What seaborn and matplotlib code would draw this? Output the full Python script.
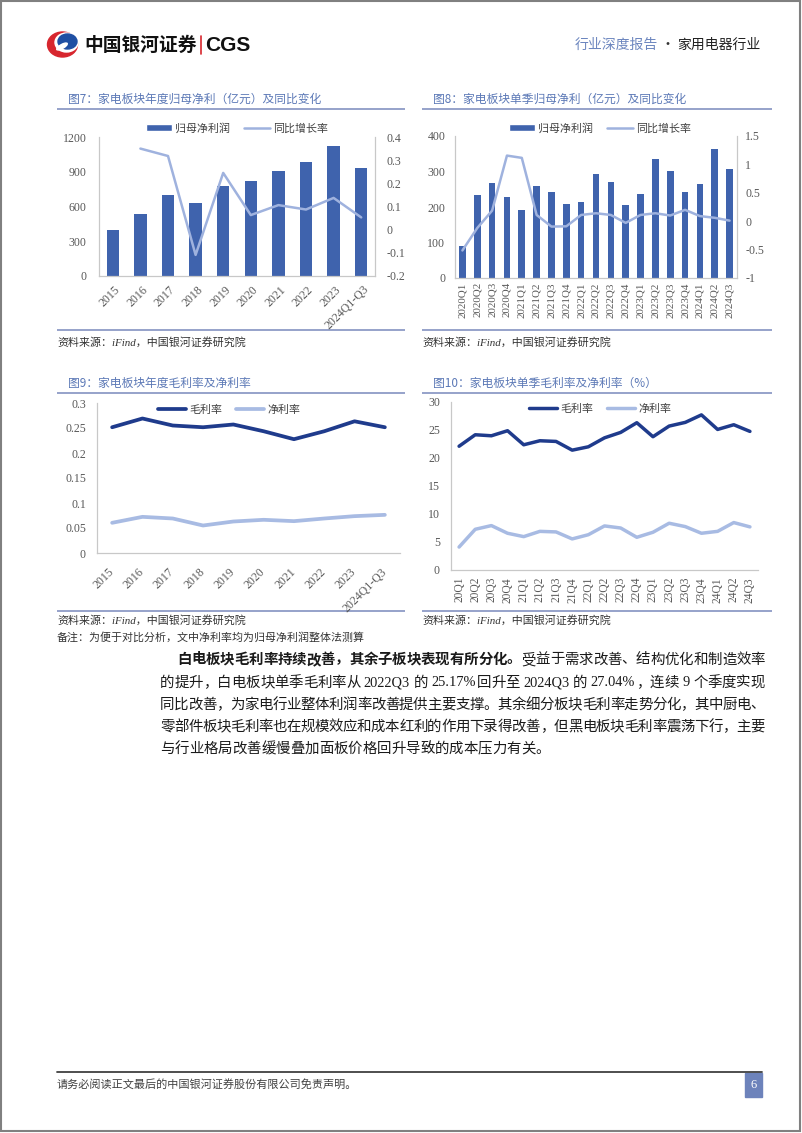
import numpy as np
import pandas as pd
import matplotlib
matplotlib.use("Agg")
import matplotlib.pyplot as plt
import seaborn as sns
from matplotlib.patches import Rectangle, Ellipse, Patch
from matplotlib.lines import Line2D
from matplotlib.transforms import ScaledTranslation
from matplotlib.ticker import FuncFormatter

# ---------------- data ----------------
years = ["2015", "2016", "2017", "2018", "2019", "2020", "2021", "2022", "2023", "2024Q1-Q3"]
annual_profit = [396, 531, 698, 626, 775, 821, 904, 988, 1120, 933]
annual_yoy = [None, 0.350, 0.318, -0.109, 0.245, 0.063, 0.106, 0.087, 0.137, 0.053]

quarters = ["2020Q1", "2020Q2", "2020Q3", "2020Q4", "2021Q1", "2021Q2", "2021Q3", "2021Q4",
            "2022Q1", "2022Q2", "2022Q3", "2022Q4", "2023Q1", "2023Q2", "2023Q3", "2023Q4",
            "2024Q1", "2024Q2", "2024Q3"]
quarter_profit = [91, 234, 268, 227, 191, 260, 243, 209, 213, 294, 270, 205, 236, 336, 300, 243, 264, 362, 306]
quarter_yoy = [-0.515, -0.12, 0.186, 1.155, 1.115, 0.11, -0.095, -0.09, 0.11, 0.14, 0.11, -0.03,
               0.11, 0.14, 0.10, 0.20, 0.09, 0.06, 0.01]

annual_gross = [0.2515, 0.269, 0.255, 0.2515, 0.257, 0.2435, 0.2276, 0.2435, 0.2634, 0.2515]
annual_net = [0.0604, 0.0723, 0.069, 0.055, 0.063, 0.0664, 0.0637, 0.069, 0.0737, 0.0763]

quarters_short = ["20Q1", "20Q2", "20Q3", "20Q4", "21Q1", "21Q2", "21Q3", "21Q4", "22Q1", "22Q2",
                  "22Q3", "22Q4", "23Q1", "23Q2", "23Q3", "23Q4", "24Q1", "24Q2", "24Q3"]
quarter_gross = [22.1, 24.15, 23.97, 24.87, 22.36, 23.08, 22.96, 21.4, 22.0, 23.6, 24.57, 26.3,
                 23.8, 25.7, 26.36, 27.7, 25.1, 25.94, 24.75]
quarter_net = [4.1, 7.27, 7.93, 6.56, 5.96, 6.9, 6.8, 5.55, 6.3, 7.87, 7.5, 5.84, 6.74, 8.35,
               7.75, 6.56, 6.9, 8.47, 7.7]

ticks7_left = [0, 300, 600, 900, 1200]
ticks7_right = [-0.2, -0.1, 0, 0.1, 0.2, 0.3, 0.4]
ticks8_left = [0, 100, 200, 300, 400]
ticks8_right = [-1, -0.5, 0, 0.5, 1, 1.5]
ticks9 = [0, 0.05, 0.1, 0.15, 0.2, 0.25, 0.3]
ticks10 = [0, 5, 10, 15, 20, 25, 30]

titles = ["图7：家电板块年度归母净利（亿元）及同比变化",
          "图8：家电板块单季归母净利（亿元）及同比变化",
          "图9：家电板块年度毛利率及净利率",
          "图10：家电板块单季毛利率及净利率（%）"]
source_text = "资料来源：iFind，中国银河证券研究院"
note_text = "备注：为便于对比分析，文中净利率均为归母净利润整体法测算"
legend_profit = ["归母净利润", "同比增长率"]
legend_margin = ["毛利率", "净利率"]

body_lines = [
    [("白电板块毛利率持续改善，其余子板块表现有所分化。", "bold"), ("受益于需求改善、结构优化和制造效率", "normal")],
    [("的提升，白电板块单季毛利率从 2022Q3 的 25.17%回升至 2024Q3 的 27.04%，连续 9 个季度实现", "normal")],
    [("同比改善，为家电行业整体利润率改善提供主要支撑。其余细分板块毛利率走势分化，其中厨电、", "normal")],
    [("零部件板块毛利率也在规模效应和成本红利的作用下录得改善，但黑电板块毛利率震荡下行，主要", "normal")],
    [("与行业格局改善缓慢叠加面板价格回升导致的成本压力有关。", "normal")],
]

# ---------------- style ----------------
sns.set_theme(style="white")
plt.rcParams["font.family"] = ["Liberation Serif", "Noto Sans CJK SC", "DejaVu Sans"]
plt.rcParams["axes.unicode_minus"] = False

BAR = "#3f63ad"
YOY = "#9fb2de"
GROSS = "#1f3b8c"
NET = "#a8bbe3"
SPINE = "#c8c8c8"
TICK = "#595959"
TITLE = "#5b78b6"
RULE = "#8d9bc6"
SANS = ["Noto Sans CJK SC", "DejaVu Sans"]
SERIF = ["Liberation Serif", "Noto Sans CJK SC", "DejaVu Sans"]

W, H = 802, 1133
fig = plt.figure(figsize=(W / 100, H / 100), dpi=100)
bg = fig.add_axes([0, 0, 1, 1])
bg.set_xlim(0, W)
bg.set_ylim(H, 0)
bg.axis("off")


def px_axes(l, t, r, b):
    a = fig.add_axes([l / W, 1 - b / H, (r - l) / W, (b - t) / H])
    a.set_facecolor("none")
    return a


fmt = FuncFormatter(lambda v, p: f"{v:g}")


def style_y(ax, ticks, lim, pad, size=8.6):
    ax.set_ylim(*lim)
    ax.set_yticks(ticks)
    ax.yaxis.set_major_formatter(fmt)
    ax.tick_params(axis="y", length=0, pad=pad, labelsize=size, labelcolor=TICK)
    for lab in ax.get_yticklabels():
        lab.set_family(SERIF)
    ax.set_ylabel("")
    ax.grid(False)


def style_x(ax, labels, rot, pad, size, dx=0):
    pos = np.arange(len(labels))
    ax.set_xticks(pos)
    if rot == 45:
        ax.set_xticklabels(labels, rotation=45, ha="right", va="center",
                           rotation_mode="anchor", fontsize=size, color=TICK, family=SERIF)
    else:
        ax.set_xticklabels(labels, rotation=90, ha="center", va="top",
                           fontsize=size, color=TICK, family=SERIF)
    ax.tick_params(axis="x", length=0, pad=pad)
    ax.set_xlim(-0.5, len(labels) - 0.5)
    ax.set_xlabel("")
    if dx:
        off = ScaledTranslation(dx / 100, 0, fig.dpi_scale_trans)
        for lab in ax.get_xticklabels():
            lab.set_transform(lab.get_transform() + off)


def spines(ax, left, right, bottom):
    ax.spines["top"].set_visible(False)
    for name, vis in (("left", left), ("right", right), ("bottom", bottom)):
        ax.spines[name].set_visible(vis)
        ax.spines[name].set_color(SPINE)
        ax.spines[name].set_linewidth(0.9)


def frame(x0, x1, title, y_title, y_rule, y_src_rule, y_src):
    bg.text(x0 + 11, y_title, title, fontsize=8.5, color=TITLE, family=SANS, va="center", ha="left")
    bg.plot([x0, x1], [y_rule, y_rule], color=RULE, lw=1.3, solid_capstyle="butt")
    bg.plot([x0, x1], [y_src_rule, y_src_rule], color=RULE, lw=1.3, solid_capstyle="butt")
    bg.text(x0, y_src, source_text, fontsize=7.9, color="#333333", family=SERIF,
            style="italic", va="center", ha="left")


# ---------------- page decoration ----------------
bg.add_patch(Rectangle((1, 1), W - 3, H - 3, fill=False, ec="#808080", lw=1.5))
# logo
bg.add_patch(Ellipse((62.5, 44.5), 30, 25, color="#d7262e"))
bg.add_patch(Ellipse((66.5, 42.5), 23, 19, color="white"))
bg.add_patch(Ellipse((67.5, 41.5), 19, 15, color="#1f4fa3"))
bg.add_patch(Ellipse((62, 46.5), 12, 4, angle=-30, color="white"))
bg.text(84, 45, "中国银河证券", fontsize=13.5, fontweight="bold", family=SANS, color="#111111",
        va="center", ha="left")
bg.plot([200.5, 200.5], [36, 54], color="#d7262e", lw=1.2)
bg.text(205, 45.5, "CGS", fontsize=15, fontweight="bold", family=["Liberation Sans"], color="#111111",
        va="center", ha="left")
bg.text(575, 45, "行业深度报告", fontsize=10, color="#6c86bf", family=SANS, va="center", ha="left")
bg.text(668, 45, "·", fontsize=10, color="#333333", family=SANS, va="center", ha="center")
bg.text(677, 45, "家用电器行业", fontsize=10, color="#222222", family=SANS, va="center", ha="left")

# footer
bg.plot([57, 762], [1072, 1072], color="#404040", lw=1.3)
bg.text(57, 1085, "请务必阅读正文最后的中国银河证券股份有限公司免责声明。", fontsize=8, color="#404040",
        family=SERIF, va="center", ha="left")
bg.add_patch(Rectangle((745, 1073), 17, 24, color="#6d83bb"))
bg.text(753.5, 1085, "6", fontsize=9, color="white", family=SERIF, va="center", ha="center")

# frames
frame(57, 405, titles[0], 99, 109, 330, 342)
frame(422, 772, titles[1], 99, 109, 330, 342)
frame(57, 405, titles[2], 383, 393, 611, 620)
frame(422, 772, titles[3], 383, 393, 611, 620)
bg.text(57, 637, note_text, fontsize=7.9, color="#333333", family=SERIF, style="italic",
        va="center", ha="left")

# ---------------- chart 7 ----------------
ax7 = px_axes(99, 137, 375, 276)
df7 = pd.DataFrame({"year": years, "profit": annual_profit})
sns.barplot(data=df7, x="year", y="profit", color=BAR, saturation=1, width=0.45,
            linewidth=0, ax=ax7)
ax7b = ax7.twinx()
ax7b.set_facecolor("none")
df7y = pd.DataFrame({"pos": np.arange(len(years)), "yoy": annual_yoy}).dropna()
sns.lineplot(data=df7y, x="pos", y="yoy", color=YOY, lw=1.8, ax=ax7b)
style_y(ax7, ticks7_left, (0, 1200), 9)
style_y(ax7b, ticks7_right, (-0.2, 0.4), 8)
style_x(ax7, years, 45, 8.5, 8.6, dx=5.5)
spines(ax7, True, False, True)
spines(ax7b, False, True, False)
fig.legend([Patch(facecolor=BAR), Line2D([], [], color=YOY, lw=1.8)], legend_profit,
           loc="center", bbox_to_anchor=(237 / W, 1 - 128 / H), ncol=2, frameon=False,
           prop={"family": SANS, "size": 7.9}, handlelength=2.4, handleheight=0.7,
           handletextpad=0.3, columnspacing=1.2, labelcolor="#404040")

# ---------------- chart 8 ----------------
ax8 = px_axes(455, 136, 737, 278)
df8 = pd.DataFrame({"q": quarters, "profit": quarter_profit})
sns.barplot(data=df8, x="q", y="profit", color=BAR, saturation=1, width=0.45,
            linewidth=0, ax=ax8)
ax8b = ax8.twinx()
ax8b.set_facecolor("none")
df8y = pd.DataFrame({"pos": np.arange(len(quarters)), "yoy": quarter_yoy})
sns.lineplot(data=df8y, x="pos", y="yoy", color=YOY, lw=1.8, ax=ax8b)
style_y(ax8, ticks8_left, (0, 400), 7)
style_y(ax8b, ticks8_right, (-1, 1.5), 6)
style_x(ax8, quarters, 90, 3, 7.9)
spines(ax8, True, False, True)
spines(ax8b, False, True, False)
fig.legend([Patch(facecolor=BAR), Line2D([], [], color=YOY, lw=1.8)], legend_profit,
           loc="center", bbox_to_anchor=(600 / W, 1 - 128 / H), ncol=2, frameon=False,
           prop={"family": SANS, "size": 7.9}, handlelength=2.4, handleheight=0.7,
           handletextpad=0.3, columnspacing=1.2, labelcolor="#404040")

# ---------------- chart 9 ----------------
ax9 = px_axes(97, 403, 400, 553)
df9 = pd.DataFrame({"pos": np.arange(len(years)), "gross": annual_gross, "net": annual_net})
sns.lineplot(data=df9, x="pos", y="gross", color=GROSS, lw=2.7, ax=ax9)
sns.lineplot(data=df9, x="pos", y="net", color=NET, lw=2.7, ax=ax9)
style_y(ax9, ticks9, (0, 0.3), 8)
style_x(ax9, years, 45, 12.5, 8.6)
spines(ax9, True, False, True)
ax9.legend([Line2D([], [], color=GROSS, lw=2.7), Line2D([], [], color=NET, lw=2.7)], legend_margin,
           loc="center", bbox_to_anchor=(229 / W, 1 - 410 / H), bbox_transform=fig.transFigure,
           ncol=2, frameon=False, prop={"family": SANS, "size": 7.9}, handlelength=2.6,
           handletextpad=0.3, columnspacing=1.2, labelcolor="#404040")

# ---------------- chart 10 ----------------
ax10 = px_axes(451, 402, 758, 570)
df10 = pd.DataFrame({"pos": np.arange(len(quarters_short)), "gross": quarter_gross, "net": quarter_net})
sns.lineplot(data=df10, x="pos", y="gross", color=GROSS, lw=2.5, ax=ax10)
sns.lineplot(data=df10, x="pos", y="net", color=NET, lw=2.5, ax=ax10)
style_y(ax10, ticks10, (0, 30), 8)
style_x(ax10, quarters_short, 90, 5, 8.3)
spines(ax10, True, False, True)
ax10.legend([Line2D([], [], color=GROSS, lw=2.5), Line2D([], [], color=NET, lw=2.5)], legend_margin,
            loc="center", bbox_to_anchor=(600 / W, 1 - 409 / H), bbox_transform=fig.transFigure,
            ncol=2, frameon=False, prop={"family": SANS, "size": 7.9}, handlelength=2.6,
            handletextpad=0.3, columnspacing=1.2, labelcolor="#404040")

# ---------------- body text (justified) ----------------
renderer = fig.canvas.get_renderer()
BODY_SIZE = 10.4
EM = BODY_SIZE * 100 / 72


def tokenize(s):
    toks, buf = [], ""
    for ch in s:
        if ord(ch) < 128 and ch != " ":
            buf += ch
        else:
            if buf:
                toks.append(buf)
                buf = ""
            toks.append(ch)
    if buf:
        toks.append(buf)
    return toks


def place_line(segs, x0, x1, y, justify):
    items = []
    for txt, wt in segs:
        for tok in tokenize(txt):
            if tok == " ":
                items.append((None, 3.5))
                continue
            t = bg.text(0, y, tok, fontsize=BODY_SIZE, fontweight=wt, family=SERIF,
                        color="#1a1a1a", va="center", ha="left")
            if ord(tok[0]) >= 0x2E80:
                w = EM
            else:
                w = t.get_window_extent(renderer).width + 0.8
            items.append((t, w))
    total = sum(w for _, w in items)
    gaps = len(items) - 1
    extra = (x1 - x0 - total) / gaps if (justify and gaps > 0) else 0.0
    x = x0
    for t, w in items:
        if t is not None:
            t.set_x(x)
        x += w + extra


body_x0 = [177, 160, 160, 160, 160]
body_y = [660, 683, 705, 727, 749]
for i, segs in enumerate(body_lines):
    place_line(segs, body_x0[i], 765, body_y[i], i < len(body_lines) - 1)

fig.savefig("out.png", dpi=100)
